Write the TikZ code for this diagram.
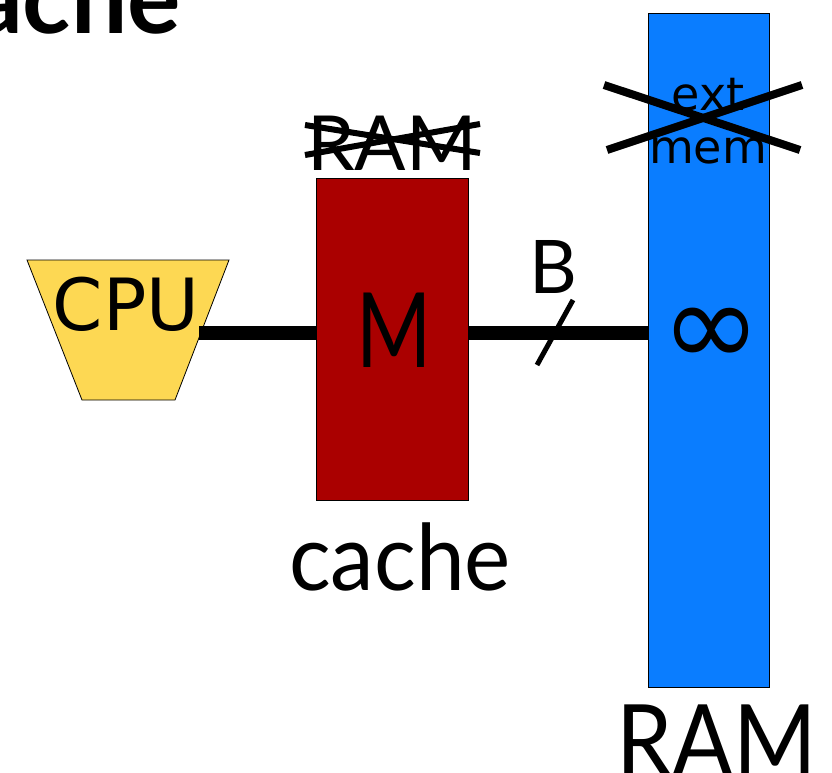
\documentclass[tikz,border=0pt]{standalone}
\usepackage{fontspec}
\setmainfont{Lato}
\newfontfamily\dejavu{DejaVu Sans}
\definecolor{cpuyellow}{HTML}{FDD853}
\definecolor{cachered}{HTML}{AA0000}
\definecolor{ramblue}{HTML}{0A7DFF}
\tikzset{
  box/.style={draw=black, line width=0.8pt},
  bus/.style={line width=14pt},
  strike/.style={line width=6pt},
  txt/.style={inner sep=0pt, anchor=base, text=black},
}
\newcommand{\fs}[1]{\fontsize{#1}{#1}\selectfont}
\begin{document}
\begin{tikzpicture}[x=1pt,y=-1pt]
\useasboundingbox (0,0) rectangle (832,773);
\clip (0,0) rectangle (832,773);
% title, partly cut off
\node[inner sep=0pt, anchor=base east] (title) at (181,34) {\fs{100}\bfseries Cache};
% CPU
\draw[box, fill=cpuyellow] (27,260) -- (229,260) -- (175,400) -- (82,400) -- cycle;
\coordinate (cpuport) at (199,333);
\node[txt] (cpu) at (126,330) {\dejavu\fs{72}CPU};
% cache
\node[box, fill=cachered, minimum width=152pt, minimum height=322pt, inner sep=0pt] (cache) at (392,339) {};
\node[txt] (M) at (394,367) {\fs{104}\scalebox{0.78}[1]{M}};
\node[txt] (ramold) at (392,170) {\fs{76}RAM};
\coordinate (s1a) at (305,125); \coordinate (s1b) at (480,153);
\coordinate (s2a) at (305,155); \coordinate (s2b) at (480,124);
\draw[strike] (s1a) -- (s1b);
\draw[strike] (s2a) -- (s2b);
\node[txt] (cachelbl) at (400,590) {\fs{92}\scalebox{0.95}[1]{cache}};
% RAM bar
\node[box, fill=ramblue, minimum width=121pt, minimum height=674pt, inner sep=0pt] (ram) at (709,350) {};
\node[txt] (ext) at (708,111) {\dejavu\fs{46}ext};
\node[txt] (mem) at (708,163) {\dejavu\fs{46}mem};
\coordinate (x1a) at (604,85); \coordinate (x1b) at (800,150);
\coordinate (x2a) at (607,150); \coordinate (x2b) at (802,85);
\draw[line width=8pt] (x1a) -- (x1b);
\draw[line width=8pt] (x2a) -- (x2b);
\node[txt] (inf) at (711,366) {\dejavu\fs{120}∞};
\node[txt] (ramlbl) at (717,776) {\fs{100}\scalebox{0.9}[1]{RAM}};
% buses
\draw[bus] (cpuport) -- (cache.west |- cpuport);
\draw[bus] (cache.east |- cpuport) -- (ram.west |- cpuport);
\coordinate (sla) at (537,365); \coordinate (slb) at (573,300);
\draw[line width=5pt] (sla) -- (slb);
\node[txt] (B) at (553,293) {\fs{74}B};
\end{tikzpicture}
\end{document}
